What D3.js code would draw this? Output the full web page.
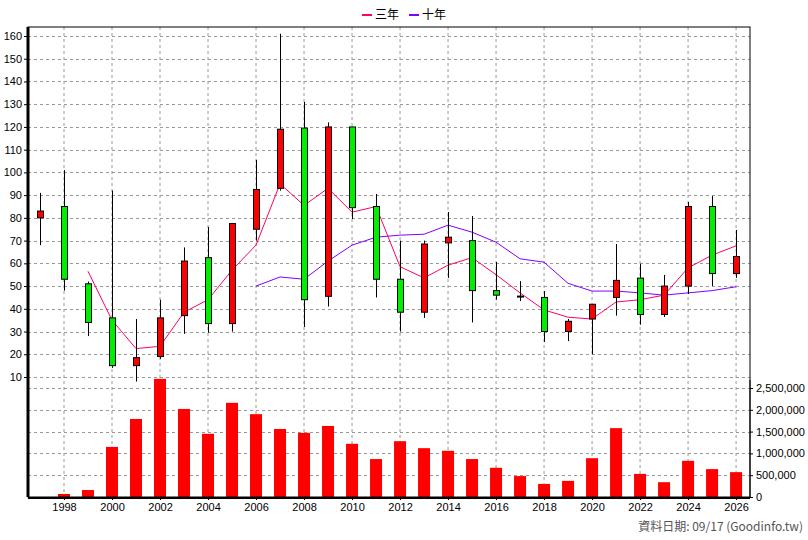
<!DOCTYPE html>
<html><head><meta charset="utf-8">
<script src="https://cdn.jsdelivr.net/npm/d3@7"></script>
<style>body{margin:0;background:#fff}svg{display:block}text{font-family:"Liberation Sans",sans-serif;font-size:11px}</style>
</head><body><svg id="c" width="808" height="540"></svg>
<script>
const years=d3.range(1997,2027);
const open =[80,85,51,36,15,19,37,62.5,33.5,75,93,119.5,45.5,120,85,53,38.5,69,70,48,45.6,45,30,35.5,45,53.5,37.5,50,85,55.5];
const close=[83,53,34,15,18.5,36,61,33.5,77.5,92.5,119,44,120,84.5,53,38.5,68.5,71.5,48,46,45.6,30,34.5,42,52.5,37.5,50,85,55.5,63];
const high =[91,101,52,92,35.5,44,67,76,77.5,105.5,161,131,122,120,90.5,70,70,82.6,80.8,60.6,52.2,47.8,35.5,42,68.5,59.8,54.9,87,89.6,74.7];
const low  =[68,48,28,14,8,18,29,29.5,30,70,92,32,41,79.5,45,30,36,53.6,34,44,43.4,25.4,25.8,20,37,33,36.4,46.5,50,53.6];
const ma3Years=d3.range(1999,2027);
const ma3=[56.5,35,22.5,23.5,38.5,44,57,68,95,85.5,93,82.5,85,58.5,53.6,59.2,62.5,55,47,39.5,36.3,35.5,43,44,46,58,63.6,67.7];
const ma10Years=d3.range(2006,2027);
const ma10=[50,54,53,61,68,71.5,72.4,72.8,76.8,73.7,69.3,62,60.5,51.2,47.8,47.8,47,46,47,48,49.7];
const volume=[0,70000,160000,1150000,1790000,2710000,2020000,1450000,2160000,1900000,1560000,1470000,1630000,1220000,870000,1280000,1120000,1060000,870000,670000,480000,300000,370000,890000,1580000,530000,340000,830000,640000,570000];
const priceTicks=d3.range(10,161,10);
const volTicks=[0,500000,1000000,1500000,2000000,2500000];
const yearTicks=d3.range(1998,2027,2);

const svg=d3.select("#c");
const L=28,R=750,T=27,B=497;
const x=d3.scaleLinear().domain([1996.5,2026.58]).range([L,R]);
const yP=d3.scaleLinear().domain([10,160]).range([377,36]);
const yV=d3.scaleLinear().domain([0,2500000]).range([B,388]);
const dash="3,3", gc="#999";

svg.append("g").selectAll("line").data(yearTicks).join("line")
 .attr("x1",d=>x(d)).attr("x2",d=>x(d)).attr("y1",T).attr("y2",B)
 .attr("stroke",gc).attr("stroke-dasharray",dash);
svg.append("g").selectAll("line").data(priceTicks).join("line")
 .attr("x1",L).attr("x2",R).attr("y1",d=>Math.round(yP(d))+.5).attr("y2",d=>Math.round(yP(d))+.5)
 .attr("stroke",gc).attr("stroke-dasharray",dash);
svg.append("g").selectAll("line").data(volTicks.slice(1)).join("line")
 .attr("x1",L).attr("x2",R).attr("y1",d=>Math.round(yV(d))+.5).attr("y2",d=>Math.round(yV(d))+.5)
 .attr("stroke",gc).attr("stroke-dasharray",dash);

svg.append("g").selectAll("rect").data(years).join("rect")
 .attr("x",(d)=>x(d)-6).attr("width",12)
 .attr("y",(d,i)=>yV(volume[i])).attr("height",(d,i)=>B-yV(volume[i])).attr("fill","#ff0000");

const line=d3.line().x(d=>x(d[0])).y(d=>yP(d[1]));
svg.append("path").attr("d",line(ma10Years.map((y,i)=>[y,ma10[i]]))).attr("fill","none").attr("stroke","#7f00ff").attr("stroke-width",1);
svg.append("path").attr("d",line(ma3Years.map((y,i)=>[y,ma3[i]]))).attr("fill","none").attr("stroke","#ff0066").attr("stroke-width",1);

const cg=svg.append("g").selectAll("g").data(years).join("g");
cg.append("line").attr("x1",d=>Math.round(x(d))+.5).attr("x2",d=>Math.round(x(d))+.5)
 .attr("y1",(d,i)=>yP(high[i])).attr("y2",(d,i)=>Math.min(yP(low[i]),B)).attr("stroke","#000");
cg.append("rect").attr("x",d=>Math.round(x(d))-2.5).attr("width",6)
 .attr("y",(d,i)=>yP(Math.max(open[i],close[i])))
 .attr("height",(d,i)=>Math.max(1,Math.abs(yP(open[i])-yP(close[i]))))
 .attr("fill",(d,i)=>close[i]>=open[i]?"#ff0000":"#00ee00").attr("stroke","#000");

svg.append("rect").attr("x",L).attr("y",T).attr("width",R-L).attr("height",B-T).attr("fill","none").attr("stroke","#000");
svg.append("line").attr("x1",L).attr("x2",L).attr("y1",T).attr("y2",B).attr("stroke","#000").attr("stroke-width",3);
svg.append("line").attr("x1",L).attr("x2",R).attr("y1",B+1).attr("y2",B+1).attr("stroke","#000").attr("stroke-width",2);

const la=svg.append("g").attr("transform",`translate(${L-1},0)`).call(d3.axisLeft(yP).tickValues(priceTicks).tickSize(3).tickFormat(d3.format("d")));
la.select(".domain").remove();
la.selectAll("text").attr("font-size",11).attr("font-family","Liberation Sans").attr("dx",1);
const ra=svg.append("g").attr("transform",`translate(${R},0)`).call(d3.axisRight(yV).tickValues(volTicks).tickSize(3).tickFormat(d3.format(",")));
ra.select(".domain").attr("d",`M0,${B}V380`);
ra.selectAll("text").attr("font-size",11).attr("font-family","Liberation Sans");
const ba=svg.append("g").attr("transform",`translate(0,${B})`).call(d3.axisBottom(x).tickValues(yearTicks).tickSize(3).tickFormat(d3.format("d")));
ba.select(".domain").remove();
ba.selectAll("text").attr("font-size",11).attr("font-family","Liberation Sans");

const lg=svg.append("g").attr("transform","translate(362,15)");
lg.append("line").attr("x1",0).attr("x2",10).attr("stroke","#ff0066").attr("stroke-width",2);
lg.append("text").attr("x",13).attr("y",4).text("三年").style("font-size","12px").style("font-family","'Noto Sans CJK TC'");
lg.append("line").attr("x1",47).attr("x2",57).attr("stroke","#7f00ff").attr("stroke-width",2);
lg.append("text").attr("x",60).attr("y",4).text("十年").style("font-size","12px").style("font-family","'Noto Sans CJK TC'");
svg.append("text").attr("x",803).attr("y",531).attr("text-anchor","end").attr("fill","#555").style("font-size","12px").style("font-family","'Noto Sans CJK TC'").text("資料日期: 09/17  (Goodinfo.tw)");
</script></body></html>
